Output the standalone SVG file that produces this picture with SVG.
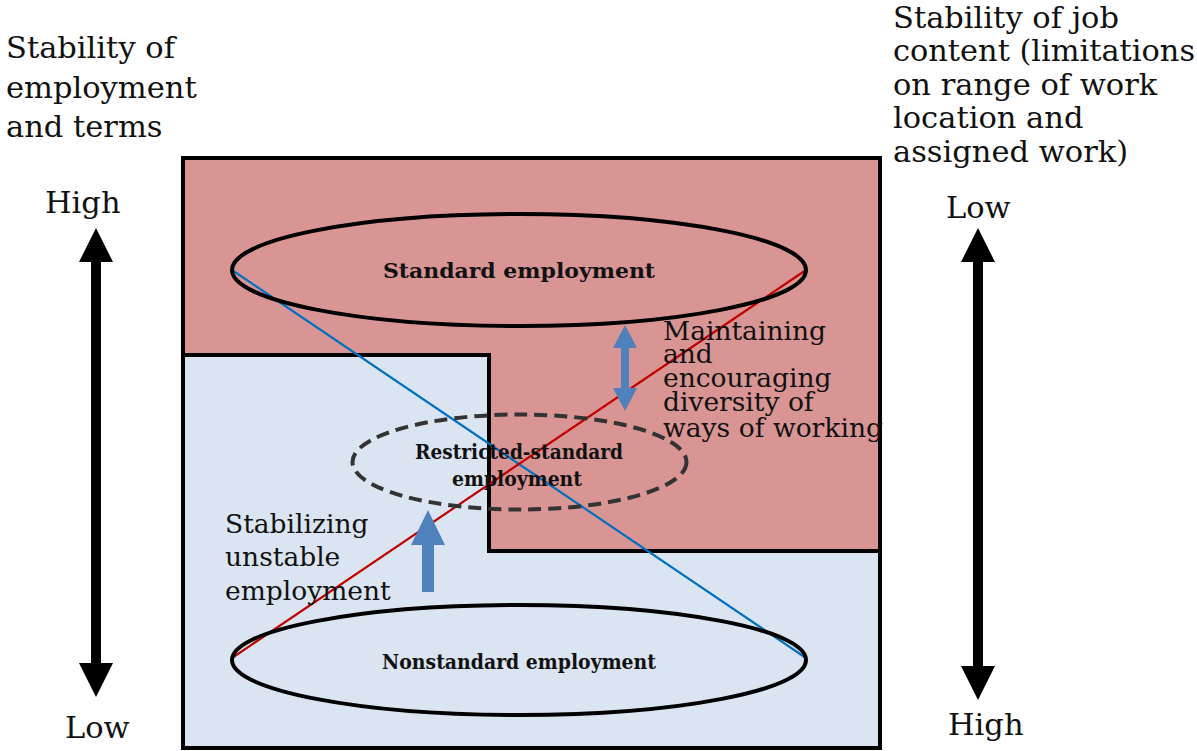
<svg xmlns="http://www.w3.org/2000/svg" width="1197" height="751" viewBox="0 0 1197 751">
  <defs>
    <style>
      .lbl { font-family: "DejaVu Serif", "Liberation Serif", serif; font-size: 30.5px; fill: #111; }
      .mid { font-family: "DejaVu Serif", "Liberation Serif", serif; font-size: 26.5px; fill: #111; }
      .node { font-family: "DejaVu Serif", "Liberation Serif", serif; font-size: 21px; font-weight: bold; fill: #111; text-anchor: middle; }
      .frame { stroke: #000; stroke-width: 4; }
      .ell { fill: none; stroke: #000; stroke-width: 4; }
    </style>
  </defs>

  <!-- background regions -->
  <g id="regions">
    <rect x="183" y="158" width="697" height="590" fill="#DBE5F1" class="frame"/>
    <polygon points="183,158 880,158 880,551 489,551 489,355 183,355" fill="#D99594" class="frame"/>
  </g>

  <!-- diagonal connectors -->
  <g id="connectors">
    <line x1="232" y1="270" x2="806" y2="658" stroke="#0070C0" stroke-width="2.2"/>
    <line x1="232" y1="658" x2="806" y2="270" stroke="#C00000" stroke-width="2.2"/>
  </g>

  <g id="standard">
    <ellipse cx="519" cy="270" rx="287" ry="56" class="ell"/>
    <text x="519" y="278" class="node" textLength="272" lengthAdjust="spacingAndGlyphs">Standard employment</text>
  </g>

  <g id="restricted">
    <ellipse cx="519.5" cy="462" rx="167" ry="47.5" fill="none" stroke="#333" stroke-width="4" stroke-dasharray="13 7"/>
    <text x="519" y="459" class="node" textLength="208" lengthAdjust="spacingAndGlyphs">Restricted-standard</text>
    <text x="517" y="486" class="node" textLength="130" lengthAdjust="spacingAndGlyphs">employment</text>
  </g>

  <g id="nonstandard">
    <ellipse cx="519" cy="660" rx="287" ry="55" class="ell"/>
    <text x="519" y="669" class="node" textLength="274" lengthAdjust="spacingAndGlyphs">Nonstandard employment</text>
  </g>

  <!-- blue arrows -->
  <g id="diversity-arrow" fill="#4F81BD">
    <polygon points="625,325 637,348 629,348 629,388 637,388 625,411 613,388 621,388 621,348 613,348"/>
  </g>
  <g id="stabilize-arrow" fill="#4F81BD">
    <polygon points="428,510 445,545 434,545 434,592 422,592 422,545 411,545"/>
  </g>

  <!-- axis arrows -->
  <g id="left-axis" fill="#000">
    <polygon points="96,228 113,262 101,262 101,663 113,663 96,697 79,663 91,663 91,262 79,262"/>
  </g>
  <g id="right-axis" fill="#000">
    <polygon points="978,228 995,262 983,262 983,666 995,666 978,700 961,666 973,666 973,262 961,262"/>
  </g>

  <!-- labels -->
  <g id="left-title">
    <text x="6" y="58" class="lbl">Stability of</text>
    <text x="6" y="98" class="lbl">employment</text>
    <text x="6" y="137" class="lbl">and terms</text>
  </g>
  <text x="45" y="213" class="lbl">High</text>
  <text x="65" y="738" class="lbl">Low</text>

  <g id="right-title">
    <text x="893" y="28" class="lbl">Stability of job</text>
    <text x="893" y="61" class="lbl" textLength="302" lengthAdjust="spacingAndGlyphs">content (limitations</text>
    <text x="893" y="95" class="lbl">on range of work</text>
    <text x="893" y="128" class="lbl">location and</text>
    <text x="893" y="162" class="lbl">assigned work)</text>
  </g>
  <text x="946" y="218" class="lbl">Low</text>
  <text x="948" y="735" class="lbl">High</text>

  <g id="diversity-label">
    <text x="663" y="340" class="mid">Maintaining</text>
    <text x="663" y="363" class="mid">and</text>
    <text x="663" y="387" class="mid">encouraging</text>
    <text x="663" y="411" class="mid">diversity of</text>
    <text x="663" y="437" class="mid" textLength="220" lengthAdjust="spacingAndGlyphs">ways of working</text>
  </g>

  <g id="stabilize-label">
    <text x="225" y="533" class="mid">Stabilizing</text>
    <text x="225" y="566" class="mid">unstable</text>
    <text x="225" y="600" class="mid">employment</text>
  </g>
</svg>
